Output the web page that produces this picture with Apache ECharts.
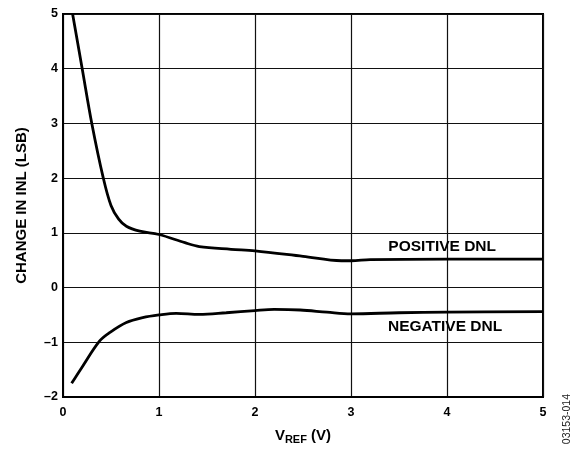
<!DOCTYPE html>
<html>
<head>
<meta charset="utf-8">
<script src="https://cdn.jsdelivr.net/npm/echarts@6/dist/echarts.min.js"></script>
<style>html,body{margin:0;padding:0;background:#fff;}#c{width:576px;height:450px;}</style>
</head>
<body>
<div id="c"></div>
<script>
const posX = [0.1, 0.2, 0.3, 0.42, 0.5, 0.58, 0.66, 0.8, 1.0, 1.27, 1.42, 1.75, 2.0, 2.5, 2.9, 3.0, 3.2, 4.0, 5.0];
const posY = [5.0, 4.0, 3.0, 2.0, 1.5, 1.25, 1.12, 1.03, 0.97, 0.82, 0.75, 0.70, 0.67, 0.57, 0.49, 0.49, 0.51, 0.52, 0.52];
const negX = [0.09, 0.2, 0.38, 0.49, 0.66, 0.83, 1.0, 1.18, 1.42, 1.7, 2.0, 2.2, 2.47, 2.75, 3.0, 3.5, 4.0, 5.0];
const negY = [-1.75, -1.45, -0.98, -0.82, -0.64, -0.55, -0.5, -0.47, -0.49, -0.46, -0.42, -0.40, -0.41, -0.45, -0.48, -0.46, -0.45, -0.44];
const seriesNames = ['POSITIVE DNL', 'NEGATIVE DNL'];
const labelAt = [[3.95, 0.755], [3.98, -0.72]];

const font = 'Liberation Sans, Arial, sans-serif';
const chart = echarts.init(document.getElementById('c'));
const toPairs = (xs, ys) => xs.map((x, i) => [x, ys[i]]);
chart.setOption({
  animation: false,
  grid: {left: 63, right: 33, top: 14, bottom: 53, show: true, borderColor: '#000', borderWidth: 2},
  xAxis: {
    type: 'value', min: 0, max: 5, interval: 1,
    name: '{v|V}{s|REF}{v| (V)}', nameLocation: 'middle', nameGap: 29,
    nameTextStyle: {rich: {
      v: {fontFamily: font, fontWeight: 'bold', fontSize: 15, color: '#000'},
      s: {fontFamily: font, fontWeight: 'bold', fontSize: 11, color: '#000', padding: [8, 0, 0, 0]}
    }},
    axisLine: {show: true, onZero: false, lineStyle: {color: '#000', width: 2}},
    axisTick: {show: false},
    axisLabel: {fontFamily: font, fontWeight: 'bold', fontSize: 12.5, color: '#000', margin: 9},
    splitLine: {show: true, lineStyle: {color: '#111', width: 1.2}}
  },
  yAxis: {
    type: 'value', min: -2, max: 5, interval: 1,
    name: 'CHANGE IN INL (LSB)', nameLocation: 'middle', nameGap: 34,
    nameTextStyle: {fontFamily: font, fontWeight: 'bold', fontSize: 15, color: '#000'},
    axisLine: {show: true, onZero: false, lineStyle: {color: '#000', width: 2}},
    axisTick: {show: false},
    axisLabel: {fontFamily: font, fontWeight: 'bold', fontSize: 12.5, color: '#000', margin: 5,
      formatter: v => String(v).replace('-', '\u2013')},
    splitLine: {show: true, lineStyle: {color: '#111', width: 1.2}}
  },
  series: [
    {name: seriesNames[0], type: 'line', data: toPairs(posX, posY), smooth: 0.35, showSymbol: false,
     lineStyle: {color: '#000', width: 2.8}},
    {name: seriesNames[1], type: 'line', data: toPairs(negX, negY), smooth: 0.35, showSymbol: false,
     lineStyle: {color: '#000', width: 2.8}},
    {type: 'scatter', symbolSize: 0, silent: true, itemStyle: {color: '#000'},
     data: labelAt.map((p, i) => ({value: p, label: {show: true, formatter: seriesNames[i]}})),
     label: {position: 'inside', fontFamily: font, fontWeight: 'bold', fontSize: 15.5, color: '#000',
       textBorderWidth: 0, opacity: 1}}
  ],
  graphic: [
    {type: 'text', left: 562, top: 394, rotation: Math.PI / 2,
     style: {text: '03153-014', fontFamily: font, fontSize: 10.5, fill: '#222'}}
  ]
});
</script>
</body>
</html>
